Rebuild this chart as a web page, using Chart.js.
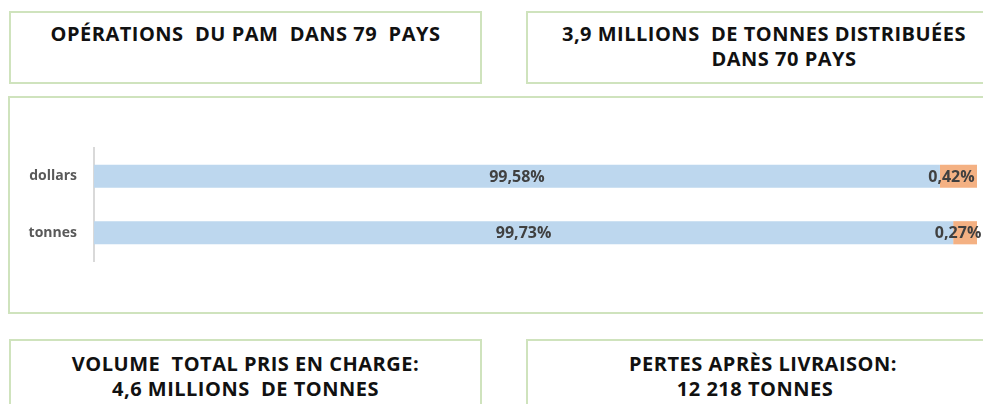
<!DOCTYPE html>
<html>
<head>
<meta charset="utf-8">
<script src="https://cdn.jsdelivr.net/npm/chart.js@4/dist/chart.umd.min.js"></script>
<style>
  html, body { margin: 0; padding: 0; background: #fff; }
  body { width: 983px; height: 404px; position: relative; overflow: hidden; font-family: "Open Sans", sans-serif; }
  .box { position: absolute; border: 2px solid #cfe3bd; box-sizing: border-box; text-align: center;
         font-weight: 700; font-size: 20px; letter-spacing: 0.5px; line-height: 25px; color: #111;
         padding-top: 8px; white-space: nowrap; }
  .box span { position: relative; }
  #chartWrap { position: absolute; left: 0; top: 0; width: 983px; height: 404px; }
</style>
</head>
<body>
<div class="box" style="left:9px;top:11px;width:473px;height:73px;">OPÉRATIONS&nbsp; DU PAM&nbsp; DANS 79&nbsp; PAYS</div>
<div class="box" style="left:526px;top:11px;width:476px;height:73px;">3,9 MILLIONS&nbsp; DE TONNES DISTRIBUÉES<br><span style="left:20px;">DANS 70 PAYS</span></div>
<div class="box" style="left:8px;top:96px;width:1000px;height:218px;"></div>
<div class="box" style="left:9px;top:339px;width:473px;height:80px;padding-top:10px;">VOLUME&nbsp; TOTAL PRIS EN CHARGE:<br>4,6 MILLIONS&nbsp; DE TONNES</div>
<div class="box" style="left:526px;top:339px;width:474px;height:80px;padding-top:10px;">PERTES APRÈS LIVRAISON:<br><span style="left:-8px;">12 218 TONNES</span></div>
<div id="chartWrap"><canvas id="bar_chart"></canvas></div>

<script>
// share of dollars / tonnes delivered vs lost
var categories = ["dollars", "tonnes"];
var delivered = [99.58, 99.73];
var lost = [0.42, 0.27];
var axisMin = 90;
var axisMax = 100;

function pct(v) {
    return v.toFixed(2).replace('.', ',') + '%';
}

var barLabels = {
    id: 'barLabels',
    afterDatasetsDraw: function (chart) {
        var ctx = chart.ctx;
        var area = chart.chartArea;
        ctx.save();
        ctx.font = 'bold 16px "Open Sans"';
        ctx.fillStyle = '#404040';
        ctx.textAlign = 'center';
        ctx.textBaseline = 'middle';
        chart.data.datasets.forEach(function (ds, i) {
            chart.getDatasetMeta(i).data.forEach(function (bar, j) {
                var left = Math.max(bar.base, area.left);
                var cx = (left + bar.x) / 2;
                if (i === 1) cx -= 7;
                ctx.fillText(pct(ds.data[j]), cx, bar.y + 1);
            });
        });
        ctx.restore();
    }
};

new Chart(document.getElementById("bar_chart").getContext("2d"), {
    type: 'bar',
    data: {
        labels: categories,
        datasets: [{
            label: "livré",
            data: delivered,
            backgroundColor: '#bdd7ee'
        }, {
            label: "perdu",
            data: lost,
            backgroundColor: '#f4b183'
        }]
    },
    options: {
        indexAxis: 'y',
        responsive: true,
        maintainAspectRatio: false,
        animation: false,
        layout: { padding: { left: 0, top: 148, right: 6, bottom: 143 } },
        plugins: { legend: { display: false }, tooltip: { enabled: false } },
        datasets: { bar: { barPercentage: 1, categoryPercentage: 0.41 } },
        scales: {
            x: {
                stacked: true,
                min: axisMin,
                max: axisMax,
                display: false
            },
            y: {
                stacked: true,
                grid: { display: false, drawTicks: false },
                border: { display: true, color: '#d9d9d9', width: 2 },
                ticks: { color: '#595959', padding: 17, font: { family: 'Open Sans', size: 14, weight: 'bold' } },
                afterFit: function (scale) { scale.width = 94; }
            }
        }
    },
    plugins: [barLabels]
});
</script>
</body>
</html>
